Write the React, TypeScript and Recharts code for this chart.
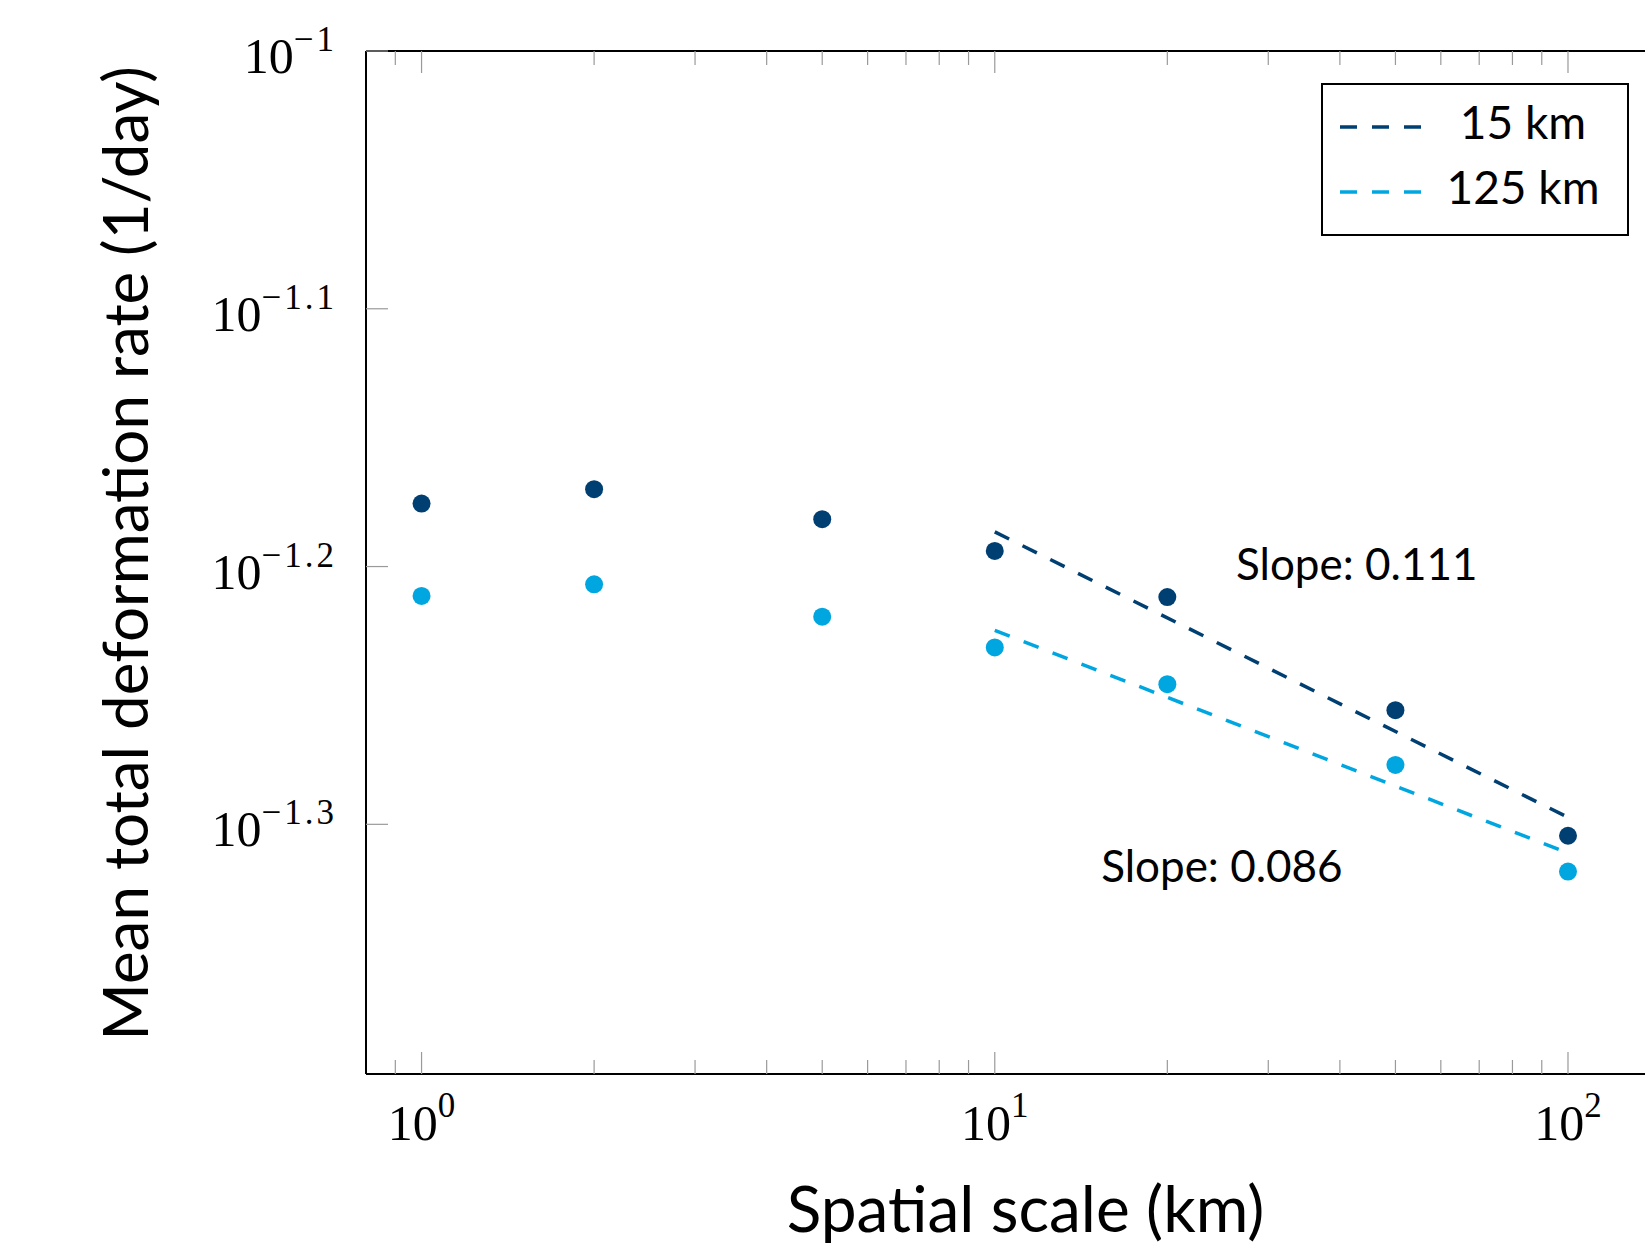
import { ComposedChart, Scatter, Line, XAxis, YAxis, Legend, ReferenceDot } from "recharts"

const DARK = "#003f72"
const LIGHT = "#00a6e0"
const TICK = "#9a9a9a"
const SANS = "Lato, 'Open Sans', sans-serif"
const SERIF = "'Liberation Serif', 'DejaVu Serif', serif"

// spatial scale (km) and mean total deformation rate (1/day)
const scales = [1, 2, 5, 10, 20, 50, 100]
const rate15 = [0.06675, 0.06761, 0.06582, 0.06398, 0.0614, 0.0555, 0.04961]
const rate125 = [0.06146, 0.0621, 0.06033, 0.0587, 0.0568, 0.05285, 0.04805]

// power-law fits over 10..100 km
const fitScales = [10, 100]
const fit15 = [0.06508, 0.05043]
const fit125 = [0.0596, 0.04885]
const legendOrder = ["15 km", "125 km"]

const xTicks = [0.9, 1, 2, 3, 4, 5, 6, 7, 8, 9, 10, 20, 30, 40, 50, 60, 70, 80, 90, 100]
const xMajor = [1, 10, 100]
const xExponents = ["0", "1", "2"]
const yPowers = [-1, -1.1, -1.2, -1.3]
const yExponents = ["\u22121", "\u22121.1", "\u22121.2", "\u22121.3"]
const yTicks = yPowers.map((p) => 10 ** p)

const slopeNotes = [
  { x: 42.8, y: 0.06324, text: "Slope: 0.111" },
  { x: 24.9, y: 0.04827, text: "Slope: 0.086" },
]

const pts15 = scales.map((x, i) => ({ x, y: rate15[i] }))
const pts125 = scales.map((x, i) => ({ x, y: rate125[i] }))
const line15 = fitScales.map((x, i) => ({ x, y: fit15[i] }))
const line125 = fitScales.map((x, i) => ({ x, y: fit125[i] }))

function XTick(props: any) {
  const { x, y, payload, top } = props
  const i = xMajor.indexOf(payload.value)
  const len = i >= 0 ? 22 : 14
  const dir = top ? 1 : -1
  return (
    <g>
      <line x1={x} x2={x} y1={y} y2={y + dir * len} stroke={TICK} strokeWidth={1.2} />
      {!top && i >= 0 && (
        <text x={x} y={y + 66} textAnchor="middle" fontFamily={SERIF} fontSize={50} fill="#000">
          10
          <tspan dy={-23} fontSize={35}>
            {xExponents[i]}
          </tspan>
        </text>
      )}
    </g>
  )
}

function YTick(props: any) {
  const { x, y, index } = props
  return (
    <g>
      <line x1={x} x2={x + 22} y1={y} y2={y} stroke={TICK} strokeWidth={1.2} />
      <text x={x - 29} y={y + 22} textAnchor="end" fontFamily={SERIF} fontSize={50} fill="#000">
        10
        <tspan dy={-22} fontSize={35} letterSpacing={3}>
          {yExponents[index]}
        </tspan>
      </text>
    </g>
  )
}

function XTitle(props: any) {
  const vb = props.viewBox ?? { x: 366, y: 1074, width: 1319, height: 170 }
  return (
    <text x={vb.x + vb.width / 2} y={vb.y + 158} textAnchor="middle" fontFamily={SANS} fontSize={64} fill="#000">
      Spatial scale (km)
    </text>
  )
}

function YTitle(props: any) {
  const vb = props.viewBox ?? { x: 0, y: 51, width: 366, height: 1023 }
  const cx = vb.x + 148
  const cy = vb.y + vb.height / 2 - 9
  return (
    <text
      x={cx}
      y={cy}
      transform={`rotate(-90, ${cx}, ${cy})`}
      textAnchor="middle"
      fontFamily={SANS}
      fontSize={62}
      fill="#000"
    >
      Mean total deformation rate (1/day)
    </text>
  )
}

function LegendBox(props: any) {
  const items = (props.payload ?? [])
    .filter((p: any) => p.type !== "none")
    .sort((a: any, b: any) => legendOrder.indexOf(a.value) - legendOrder.indexOf(b.value))
  return (
    <svg width={308} height={153} style={{ display: "block" }}>
      <rect x={1} y={1} width={306} height={151} fill="#fff" stroke="#000" strokeWidth={2} />
      {items.map((p: any, i: number) => (
        <g key={p.value}>
          <line x1={19} x2={100} y1={44 + 65 * i} y2={44 + 65 * i} stroke={p.color} strokeWidth={3.5} strokeDasharray="17 15" />
          <text x={202} y={56 + 65 * i} textAnchor="middle" fontFamily={SANS} fontSize={46} fill="#000">
            {p.value}
          </text>
        </g>
      ))}
    </svg>
  )
}

export default function App() {
  return (
    <div style={{ position: "absolute", left: 0, top: 0, width: 1645, height: 1244, overflow: "hidden" }}>
      <ComposedChart width={1710} height={1244} margin={{ top: 0, right: 25, bottom: 0, left: 0 }}>
        <XAxis
          xAxisId="top"
          orientation="top"
          type="number"
          dataKey="x"
          scale="log"
          domain={[0.8, 160]}
          allowDataOverflow
          ticks={xTicks}
          interval={0}
          height={51}
          tickSize={0}
          tickMargin={0}
          tickLine={false}
          axisLine={{ stroke: "#000", strokeWidth: 2 }}
          tick={<XTick top />}
        />
        <XAxis
          type="number"
          dataKey="x"
          scale="log"
          domain={[0.8, 160]}
          allowDataOverflow
          ticks={xTicks}
          interval={0}
          height={170}
          tickSize={0}
          tickMargin={0}
          tickLine={false}
          axisLine={{ stroke: "#000", strokeWidth: 2 }}
          tick={<XTick />}
          label={<XTitle />}
        />
        <YAxis
          type="number"
          dataKey="y"
          scale="log"
          domain={[0.0401, 0.1]}
          allowDataOverflow
          ticks={yTicks}
          interval={0}
          width={366}
          tickSize={0}
          tickMargin={0}
          tickLine={false}
          axisLine={{ stroke: "#000", strokeWidth: 2 }}
          tick={<YTick />}
          label={<YTitle />}
        />
        <Legend
          layout="vertical"
          align="center"
          verticalAlign="middle"
          wrapperStyle={{ top: 83, left: 1321, width: 308, height: 153 }}
          content={<LegendBox />}
        />
        <Scatter
          data={pts15}
          legendType="none"
          isAnimationActive={false}
          shape={(p: any) => <circle cx={p.cx} cy={p.cy} r={9} fill={DARK} />}
        />
        <Scatter
          data={pts125}
          legendType="none"
          isAnimationActive={false}
          shape={(p: any) => <circle cx={p.cx} cy={p.cy} r={9} fill={LIGHT} />}
        />
        <Line
          data={line15}
          dataKey="y"
          name="15 km"
          type="linear"
          stroke={DARK}
          strokeWidth={3.5}
          strokeDasharray="16 15"
          dot={false}
          activeDot={false}
          isAnimationActive={false}
        />
        <Line
          data={line125}
          dataKey="y"
          name="125 km"
          type="linear"
          stroke={LIGHT}
          strokeWidth={3.5}
          strokeDasharray="16 15"
          dot={false}
          activeDot={false}
          isAnimationActive={false}
        />
        {slopeNotes.map((n) => (
          <ReferenceDot
            key={n.text}
            x={n.x}
            y={n.y}
            r={1}
            fill="none"
            stroke="none"
            label={{ value: n.text, position: "center", fontSize: 44, fontFamily: SANS, fill: "#000" }}
          />
        ))}
      </ComposedChart>
    </div>
  )
}
